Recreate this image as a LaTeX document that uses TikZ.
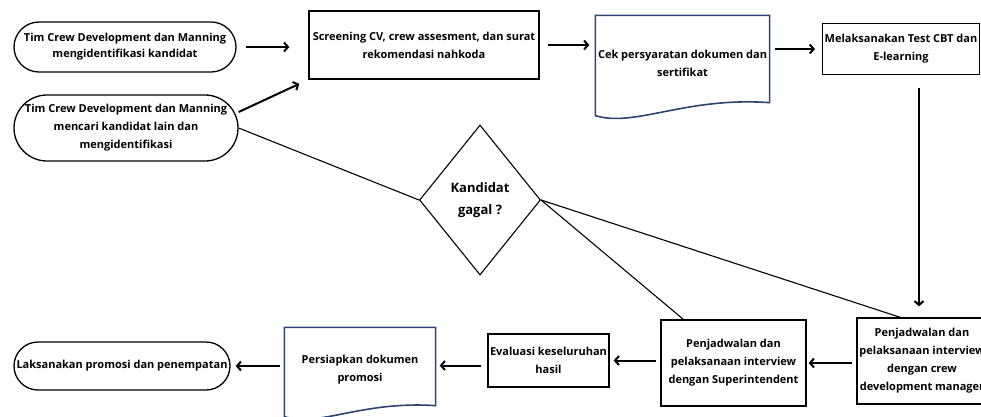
\documentclass[tikz,border=0pt]{standalone}
\usepackage{fontspec}
\setmainfont{Open Sans}
\usepackage{tikz}
\usetikzlibrary{arrows.meta}
\usetikzlibrary{shapes.geometric}
\usetikzlibrary{shapes.misc}
\definecolor{docblue}{HTML}{2B4470}

\begin{document}
\begin{tikzpicture}[x=1pt,y=-1pt,line width=1.3pt,
	  font=\bfseries\fontsize{11}{18}\selectfont,
	  every node/.style={align=center,inner sep=2pt},
	  term/.style={rounded rectangle,draw},
	  proc/.style={rectangle,draw},
	  docnode/.style={rectangle},
	  flow/.style={line width=2pt,-{Straight Barb[length=4pt,width=9pt]}},
	  link/.style={line width=1.1pt}]
	  \useasboundingbox (0,0) rectangle (981,416);
	  \node[term,minimum width=226pt,minimum height=50pt,font=\bfseries\fontsize{11}{16}\selectfont] (idn) at (125,47)
	    {Tim Crew Development dan Manning\\mengidentifikasi kandidat};
	  \node[term,minimum width=228pt,minimum height=66pt] (cari) at (126,128)
	    {Tim Crew Development dan Manning\\mencari kandidat lain dan\\mengidentifikasi};
	  \node[proc,minimum width=230pt,minimum height=68pt] (scr) at (424,45)
	    {Screening CV, crew assesment, dan surat\\rekomendasi nahkoda};
	  \node[docnode,minimum width=171pt,minimum height=86pt] (cek) at (682.5,63)
	    {Cek persyaratan dokumen dan\\sertifikat};
	  \node[proc,minimum width=156pt,minimum height=51pt] (cbt) at (901,49)
	    {Melaksanakan Test CBT dan\\E-learning};
	  \node[proc,minimum width=130pt,minimum height=86pt] (crew) at (922,361)
	    {Penjadwalan dan\\pelaksanaan interview\\dengan crew\\development manager};
	  \node[proc,minimum width=145pt,minimum height=86pt] (supt) at (733.5,363)
	    {Penjadwalan dan\\pelaksanaan interview\\dengan Superintendent};
	  \node[proc,minimum width=121pt,minimum height=53pt] (eval) at (548.5,360.5)
	    {Evaluasi keseluruhan\\hasil};
	  \node[docnode,minimum width=150pt,minimum height=74pt] (siap) at (360,370)
	    {Persiapkan dokumen\\promosi};
	  \node[term,minimum width=220pt,minimum height=48pt] (laks) at (122,366)
	    {Laksanakan promosi dan penempatan};
	  \node[diamond,draw,line width=1.1pt,minimum width=121pt,minimum height=150pt,
	        font=\bfseries\fontsize{13}{22}\selectfont] (gagal) at (480,200)
	    {Kandidat\\gagal ?};
	  % dokumen
	  \draw[docblue,line width=1.6pt] ([yshift=4pt]cek.north west) -- ([yshift=-9pt]cek.south west)
	    .. controls ([xshift=40pt,yshift=-21pt]cek.south west) and ([xshift=-85pt,yshift=10pt]cek.south east)
	    .. ([yshift=4pt]cek.south east) -- ([yshift=4pt]cek.north east) -- cycle;
	  \draw[docblue,line width=1.6pt] ([yshift=5pt]siap.north west) -- ([yshift=-9pt]siap.south west)
	    .. controls ([xshift=35pt,yshift=-20pt]siap.south west) and ([xshift=-75pt,yshift=7pt]siap.south east)
	    .. ([yshift=2pt]siap.south east) -- ([yshift=5pt]siap.north east) -- cycle;
	  % alur
	  \draw[flow,shorten <=9pt,shorten >=19pt] (idn.east) -- (idn.east -| scr.west);
	  \draw[flow,shorten >=10pt] ([yshift=16pt]cari.east) -- (scr.south west);
	  \draw[flow,shorten <=8pt,shorten >=6pt] (scr.east) -- (scr.east -| cek.west);
	  \draw[flow,shorten <=5pt,shorten >=7pt] (cek.east |- cbt.west) -- (cbt.west);
	  \draw[flow,shorten <=13pt,shorten >=11pt] ([xshift=18pt]cbt.south) -- ([xshift=18pt]cbt.south |- crew.north);
	  \draw[flow,shorten <=4pt,shorten >=2pt] (crew.west |- supt.east) -- (supt.east);
	  \draw[flow,shorten <=4pt,shorten >=4pt] (supt.west |- eval.east) -- (eval.east);
	  \draw[flow,shorten <=6pt,shorten >=4pt] ([yshift=-5pt]eval.west) -- ([yshift=-5pt]eval.west -| siap.east);
	  \draw[flow,shorten <=4pt,shorten >=5pt] (siap.west |- laks.east) -- (laks.east);
	  % keputusan
	  \draw[link] (cari.east) -- (gagal.west);
	  \draw[link] (gagal.east) -- ([xshift=23pt]supt.north west);
	  \draw[link] (gagal.east) -- ([xshift=44pt]crew.north west);
\end{tikzpicture}
\end{document}
